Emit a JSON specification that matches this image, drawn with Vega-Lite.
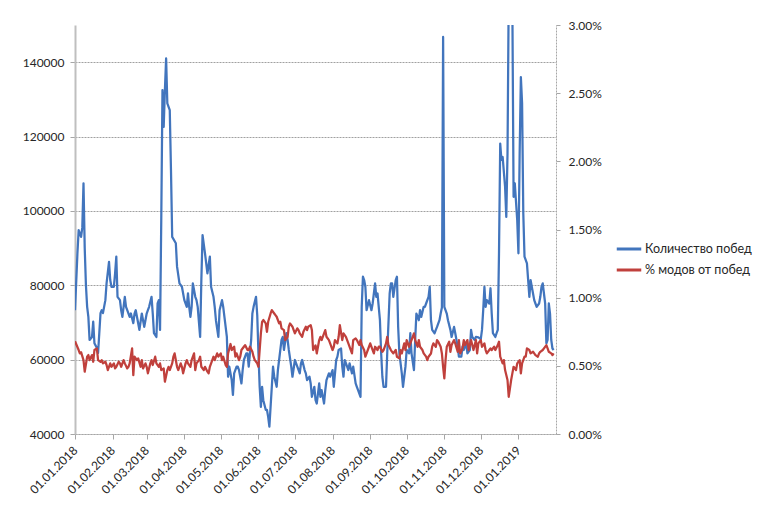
{
  "$schema": "https://vega.github.io/schema/vega-lite/v6.json",
  "width": 481,
  "height": 409,
  "autosize": "none",
  "padding": {"left": 75, "top": 25, "right": 211, "bottom": 78},
  "background": "white",
  "config": {
    "view": {"stroke": null},
    "font": "Lato",
    "axis": {
      "labelFont": "Lato",
      "labelFontSize": 12,
      "labelColor": "#262626",
      "tickColor": "#a6a6a6",
      "domainColor": "#a6a6a6",
      "title": null
    },
    "legend": {"labelFont": "Lato", "labelFontSize": 12.5, "labelColor": "#262626"}
  },
  "datasets": {
    "wins": [
      {"d": "2018-01-01", "v": 73300}, {"d": "2018-01-03", "v": 88600}, {"d": "2018-01-04", "v": 94800},
      {"d": "2018-01-06", "v": 93000}, {"d": "2018-01-07", "v": 95500}, {"d": "2018-01-08", "v": 107400},
      {"d": "2018-01-09", "v": 90000}, {"d": "2018-01-10", "v": 80000}, {"d": "2018-01-11", "v": 74200},
      {"d": "2018-01-12", "v": 71500}, {"d": "2018-01-13", "v": 65300}, {"d": "2018-01-15", "v": 66100},
      {"d": "2018-01-16", "v": 70200}, {"d": "2018-01-17", "v": 64400}, {"d": "2018-01-19", "v": 63100},
      {"d": "2018-01-20", "v": 61800}, {"d": "2018-01-22", "v": 72500}, {"d": "2018-01-23", "v": 73300},
      {"d": "2018-01-24", "v": 72500}, {"d": "2018-01-26", "v": 76000}, {"d": "2018-01-27", "v": 80600},
      {"d": "2018-01-29", "v": 86300}, {"d": "2018-01-30", "v": 81400}, {"d": "2018-01-31", "v": 79600},
      {"d": "2018-02-02", "v": 79600}, {"d": "2018-02-03", "v": 83200}, {"d": "2018-02-04", "v": 87700},
      {"d": "2018-02-05", "v": 76900}, {"d": "2018-02-07", "v": 76000}, {"d": "2018-02-08", "v": 73300},
      {"d": "2018-02-09", "v": 71500}, {"d": "2018-02-11", "v": 76900}, {"d": "2018-02-12", "v": 74200},
      {"d": "2018-02-13", "v": 73300}, {"d": "2018-02-15", "v": 71500}, {"d": "2018-02-16", "v": 72400},
      {"d": "2018-02-18", "v": 69800}, {"d": "2018-02-19", "v": 72400}, {"d": "2018-02-20", "v": 73300},
      {"d": "2018-02-22", "v": 69800}, {"d": "2018-02-23", "v": 68000}, {"d": "2018-02-25", "v": 72400},
      {"d": "2018-02-26", "v": 70600}, {"d": "2018-02-27", "v": 68800}, {"d": "2018-03-01", "v": 72400},
      {"d": "2018-03-02", "v": 73300}, {"d": "2018-03-03", "v": 74200}, {"d": "2018-03-05", "v": 76900},
      {"d": "2018-03-06", "v": 72400}, {"d": "2018-03-07", "v": 67100}, {"d": "2018-03-09", "v": 66100},
      {"d": "2018-03-10", "v": 75100}, {"d": "2018-03-11", "v": 76000}, {"d": "2018-03-12", "v": 68000},
      {"d": "2018-03-13", "v": 97500}, {"d": "2018-03-14", "v": 132500}, {"d": "2018-03-15", "v": 122600},
      {"d": "2018-03-16", "v": 132500}, {"d": "2018-03-17", "v": 141000}, {"d": "2018-03-18", "v": 128900},
      {"d": "2018-03-20", "v": 127100}, {"d": "2018-03-21", "v": 111000}, {"d": "2018-03-22", "v": 93000},
      {"d": "2018-03-25", "v": 91300}, {"d": "2018-03-26", "v": 85000}, {"d": "2018-03-28", "v": 80500},
      {"d": "2018-03-30", "v": 79600}, {"d": "2018-04-01", "v": 76000}, {"d": "2018-04-03", "v": 74200},
      {"d": "2018-04-04", "v": 77800}, {"d": "2018-04-05", "v": 74200}, {"d": "2018-04-06", "v": 71500},
      {"d": "2018-04-07", "v": 74200}, {"d": "2018-04-08", "v": 80500}, {"d": "2018-04-10", "v": 76900},
      {"d": "2018-04-11", "v": 76000}, {"d": "2018-04-12", "v": 74200}, {"d": "2018-04-14", "v": 66100},
      {"d": "2018-04-15", "v": 81400}, {"d": "2018-04-16", "v": 93500}, {"d": "2018-04-18", "v": 88600},
      {"d": "2018-04-19", "v": 85900}, {"d": "2018-04-20", "v": 83200}, {"d": "2018-04-22", "v": 87700},
      {"d": "2018-04-23", "v": 79600}, {"d": "2018-04-25", "v": 76900}, {"d": "2018-04-26", "v": 74200},
      {"d": "2018-04-27", "v": 70600}, {"d": "2018-04-29", "v": 66100}, {"d": "2018-04-30", "v": 73300},
      {"d": "2018-05-02", "v": 76000}, {"d": "2018-05-03", "v": 74200}, {"d": "2018-05-04", "v": 71500},
      {"d": "2018-05-06", "v": 66100}, {"d": "2018-05-07", "v": 55400}, {"d": "2018-05-08", "v": 58100},
      {"d": "2018-05-10", "v": 54500}, {"d": "2018-05-11", "v": 50500}, {"d": "2018-05-12", "v": 56300},
      {"d": "2018-05-14", "v": 58100}, {"d": "2018-05-15", "v": 58100}, {"d": "2018-05-16", "v": 57200},
      {"d": "2018-05-18", "v": 53600}, {"d": "2018-05-19", "v": 57200}, {"d": "2018-05-20", "v": 59900},
      {"d": "2018-05-22", "v": 61700}, {"d": "2018-05-23", "v": 61700}, {"d": "2018-05-24", "v": 58100},
      {"d": "2018-05-26", "v": 65300}, {"d": "2018-05-27", "v": 72400}, {"d": "2018-05-28", "v": 74200},
      {"d": "2018-05-30", "v": 76900}, {"d": "2018-05-31", "v": 72000}, {"d": "2018-06-01", "v": 61700},
      {"d": "2018-06-02", "v": 52700}, {"d": "2018-06-03", "v": 47300}, {"d": "2018-06-04", "v": 52700},
      {"d": "2018-06-05", "v": 49100}, {"d": "2018-06-07", "v": 46500}, {"d": "2018-06-08", "v": 46500},
      {"d": "2018-06-09", "v": 44600}, {"d": "2018-06-10", "v": 42000}, {"d": "2018-06-12", "v": 52700},
      {"d": "2018-06-13", "v": 58100}, {"d": "2018-06-14", "v": 55400}, {"d": "2018-06-16", "v": 52700},
      {"d": "2018-06-17", "v": 57200}, {"d": "2018-06-18", "v": 59900}, {"d": "2018-06-20", "v": 65300},
      {"d": "2018-06-21", "v": 66100}, {"d": "2018-06-22", "v": 62600}, {"d": "2018-06-24", "v": 67100},
      {"d": "2018-06-25", "v": 65300}, {"d": "2018-06-26", "v": 62600}, {"d": "2018-06-28", "v": 58100},
      {"d": "2018-06-29", "v": 55400}, {"d": "2018-07-01", "v": 59900}, {"d": "2018-07-02", "v": 59000},
      {"d": "2018-07-03", "v": 58100}, {"d": "2018-07-05", "v": 56300}, {"d": "2018-07-06", "v": 59000},
      {"d": "2018-07-07", "v": 59900}, {"d": "2018-07-09", "v": 57200}, {"d": "2018-07-10", "v": 56300},
      {"d": "2018-07-11", "v": 54500}, {"d": "2018-07-13", "v": 55400}, {"d": "2018-07-14", "v": 53600},
      {"d": "2018-07-15", "v": 50000}, {"d": "2018-07-17", "v": 52700}, {"d": "2018-07-18", "v": 49100},
      {"d": "2018-07-19", "v": 48200}, {"d": "2018-07-21", "v": 53600}, {"d": "2018-07-22", "v": 50000},
      {"d": "2018-07-23", "v": 51800}, {"d": "2018-07-25", "v": 48200}, {"d": "2018-07-26", "v": 51800},
      {"d": "2018-07-27", "v": 54500}, {"d": "2018-07-29", "v": 56300}, {"d": "2018-07-30", "v": 55400},
      {"d": "2018-08-01", "v": 57200}, {"d": "2018-08-02", "v": 52700}, {"d": "2018-08-04", "v": 59900},
      {"d": "2018-08-05", "v": 60800}, {"d": "2018-08-06", "v": 62600}, {"d": "2018-08-08", "v": 63000},
      {"d": "2018-08-09", "v": 58100}, {"d": "2018-08-10", "v": 55400}, {"d": "2018-08-11", "v": 59900},
      {"d": "2018-08-13", "v": 58100}, {"d": "2018-08-14", "v": 57200}, {"d": "2018-08-15", "v": 59000},
      {"d": "2018-08-17", "v": 56300}, {"d": "2018-08-18", "v": 58100}, {"d": "2018-08-20", "v": 53600},
      {"d": "2018-08-21", "v": 52700}, {"d": "2018-08-22", "v": 51800}, {"d": "2018-08-24", "v": 50000},
      {"d": "2018-08-25", "v": 74200}, {"d": "2018-08-26", "v": 82300}, {"d": "2018-08-27", "v": 81400},
      {"d": "2018-08-28", "v": 79600}, {"d": "2018-08-29", "v": 73300}, {"d": "2018-08-31", "v": 76000},
      {"d": "2018-09-02", "v": 73300}, {"d": "2018-09-03", "v": 75100}, {"d": "2018-09-05", "v": 80500},
      {"d": "2018-09-06", "v": 76900}, {"d": "2018-09-07", "v": 77800}, {"d": "2018-09-09", "v": 70600},
      {"d": "2018-09-10", "v": 61700}, {"d": "2018-09-11", "v": 55400}, {"d": "2018-09-12", "v": 52700},
      {"d": "2018-09-14", "v": 52700}, {"d": "2018-09-15", "v": 61700}, {"d": "2018-09-17", "v": 77800},
      {"d": "2018-09-18", "v": 80500}, {"d": "2018-09-19", "v": 80500}, {"d": "2018-09-20", "v": 76900},
      {"d": "2018-09-22", "v": 81400}, {"d": "2018-09-23", "v": 82300}, {"d": "2018-09-24", "v": 68800},
      {"d": "2018-09-25", "v": 61700}, {"d": "2018-09-27", "v": 56300}, {"d": "2018-09-28", "v": 52700},
      {"d": "2018-09-30", "v": 58100}, {"d": "2018-10-01", "v": 62600}, {"d": "2018-10-03", "v": 61700},
      {"d": "2018-10-04", "v": 67100}, {"d": "2018-10-05", "v": 61700}, {"d": "2018-10-07", "v": 57200},
      {"d": "2018-10-08", "v": 65300}, {"d": "2018-10-09", "v": 72400}, {"d": "2018-10-11", "v": 70600},
      {"d": "2018-10-12", "v": 73300}, {"d": "2018-10-13", "v": 71500}, {"d": "2018-10-15", "v": 74200},
      {"d": "2018-10-16", "v": 74200}, {"d": "2018-10-17", "v": 75100}, {"d": "2018-10-19", "v": 76900},
      {"d": "2018-10-20", "v": 79600}, {"d": "2018-10-21", "v": 70600}, {"d": "2018-10-22", "v": 68000},
      {"d": "2018-10-24", "v": 67100}, {"d": "2018-10-25", "v": 68000}, {"d": "2018-10-26", "v": 68800},
      {"d": "2018-10-28", "v": 70600}, {"d": "2018-10-29", "v": 72400}, {"d": "2018-10-30", "v": 74000},
      {"d": "2018-10-31", "v": 146800}, {"d": "2018-11-01", "v": 74200}, {"d": "2018-11-03", "v": 72400},
      {"d": "2018-11-04", "v": 70600}, {"d": "2018-11-06", "v": 68000}, {"d": "2018-11-07", "v": 66100},
      {"d": "2018-11-09", "v": 68800}, {"d": "2018-11-10", "v": 67100}, {"d": "2018-11-11", "v": 65300},
      {"d": "2018-11-12", "v": 63500}, {"d": "2018-11-13", "v": 60800}, {"d": "2018-11-15", "v": 60800},
      {"d": "2018-11-16", "v": 63500}, {"d": "2018-11-17", "v": 62600}, {"d": "2018-11-19", "v": 64400},
      {"d": "2018-11-20", "v": 61700}, {"d": "2018-11-22", "v": 62600}, {"d": "2018-11-23", "v": 68000},
      {"d": "2018-11-24", "v": 66100}, {"d": "2018-11-26", "v": 65300}, {"d": "2018-11-27", "v": 66100},
      {"d": "2018-11-29", "v": 66000}, {"d": "2018-12-01", "v": 65500}, {"d": "2018-12-02", "v": 68000},
      {"d": "2018-12-03", "v": 73300}, {"d": "2018-12-04", "v": 79600}, {"d": "2018-12-05", "v": 74200},
      {"d": "2018-12-06", "v": 76000}, {"d": "2018-12-08", "v": 75100}, {"d": "2018-12-09", "v": 79200},
      {"d": "2018-12-10", "v": 72400}, {"d": "2018-12-11", "v": 67100}, {"d": "2018-12-13", "v": 66100},
      {"d": "2018-12-14", "v": 67100}, {"d": "2018-12-15", "v": 68000}, {"d": "2018-12-16", "v": 88600},
      {"d": "2018-12-17", "v": 118100}, {"d": "2018-12-18", "v": 113700}, {"d": "2018-12-19", "v": 114500},
      {"d": "2018-12-21", "v": 106500}, {"d": "2018-12-22", "v": 98400}, {"d": "2018-12-23", "v": 115400},
      {"d": "2018-12-24", "v": 158000}, {"d": "2018-12-25", "v": 163000}, {"d": "2018-12-26", "v": 160000},
      {"d": "2018-12-27", "v": 155000}, {"d": "2018-12-28", "v": 103800}, {"d": "2018-12-29", "v": 107400},
      {"d": "2018-12-31", "v": 97500}, {"d": "2019-01-01", "v": 88600}, {"d": "2019-01-02", "v": 115500},
      {"d": "2019-01-03", "v": 136000}, {"d": "2019-01-04", "v": 129000}, {"d": "2019-01-05", "v": 99300},
      {"d": "2019-01-06", "v": 87700}, {"d": "2019-01-08", "v": 85900}, {"d": "2019-01-09", "v": 81400},
      {"d": "2019-01-10", "v": 76900}, {"d": "2019-01-11", "v": 81400}, {"d": "2019-01-12", "v": 79600},
      {"d": "2019-01-14", "v": 76000}, {"d": "2019-01-15", "v": 75100}, {"d": "2019-01-16", "v": 74200},
      {"d": "2019-01-18", "v": 75100}, {"d": "2019-01-19", "v": 76900}, {"d": "2019-01-20", "v": 79600},
      {"d": "2019-01-21", "v": 80500}, {"d": "2019-01-23", "v": 75100}, {"d": "2019-01-24", "v": 64400},
      {"d": "2019-01-25", "v": 65300}, {"d": "2019-01-26", "v": 75100}, {"d": "2019-01-27", "v": 72400},
      {"d": "2019-01-28", "v": 65300}, {"d": "2019-01-29", "v": 63000}, {"d": "2019-01-30", "v": 62600}
    ],
    "mods": [
      {"d": "2018-01-01", "p": 0.0068}, {"d": "2018-01-04", "p": 0.00616}, {"d": "2018-01-05", "p": 0.00591},
      {"d": "2018-01-06", "p": 0.006}, {"d": "2018-01-08", "p": 0.00542}, {"d": "2018-01-09", "p": 0.00457},
      {"d": "2018-01-11", "p": 0.00567}, {"d": "2018-01-12", "p": 0.00579}, {"d": "2018-01-13", "p": 0.00542},
      {"d": "2018-01-15", "p": 0.00579}, {"d": "2018-01-16", "p": 0.0053}, {"d": "2018-01-17", "p": 0.00616},
      {"d": "2018-01-19", "p": 0.00628}, {"d": "2018-01-20", "p": 0.00542}, {"d": "2018-01-22", "p": 0.0053},
      {"d": "2018-01-23", "p": 0.00542}, {"d": "2018-01-24", "p": 0.00518}, {"d": "2018-01-26", "p": 0.0053},
      {"d": "2018-01-27", "p": 0.00506}, {"d": "2018-01-28", "p": 0.00469}, {"d": "2018-01-30", "p": 0.00518},
      {"d": "2018-01-31", "p": 0.00493}, {"d": "2018-02-02", "p": 0.00518}, {"d": "2018-02-03", "p": 0.00481},
      {"d": "2018-02-04", "p": 0.00493}, {"d": "2018-02-06", "p": 0.0053}, {"d": "2018-02-07", "p": 0.00518},
      {"d": "2018-02-08", "p": 0.00493}, {"d": "2018-02-10", "p": 0.00542}, {"d": "2018-02-11", "p": 0.00518},
      {"d": "2018-02-13", "p": 0.00481}, {"d": "2018-02-14", "p": 0.00493}, {"d": "2018-02-15", "p": 0.00518},
      {"d": "2018-02-17", "p": 0.00628}, {"d": "2018-02-18", "p": 0.00432}, {"d": "2018-02-19", "p": 0.00567},
      {"d": "2018-02-21", "p": 0.00542}, {"d": "2018-02-22", "p": 0.00555}, {"d": "2018-02-24", "p": 0.00493},
      {"d": "2018-02-25", "p": 0.00542}, {"d": "2018-02-26", "p": 0.00481}, {"d": "2018-02-28", "p": 0.00518},
      {"d": "2018-03-01", "p": 0.00493}, {"d": "2018-03-02", "p": 0.00445}, {"d": "2018-03-04", "p": 0.00518},
      {"d": "2018-03-05", "p": 0.00542}, {"d": "2018-03-06", "p": 0.00506}, {"d": "2018-03-08", "p": 0.00567},
      {"d": "2018-03-09", "p": 0.00518}, {"d": "2018-03-11", "p": 0.00493}, {"d": "2018-03-12", "p": 0.00518},
      {"d": "2018-03-13", "p": 0.00469}, {"d": "2018-03-15", "p": 0.00481}, {"d": "2018-03-16", "p": 0.00384},
      {"d": "2018-03-18", "p": 0.00469}, {"d": "2018-03-19", "p": 0.00493}, {"d": "2018-03-20", "p": 0.00469},
      {"d": "2018-03-22", "p": 0.00518}, {"d": "2018-03-23", "p": 0.00567}, {"d": "2018-03-24", "p": 0.00591},
      {"d": "2018-03-26", "p": 0.00493}, {"d": "2018-03-27", "p": 0.00469}, {"d": "2018-03-29", "p": 0.00518},
      {"d": "2018-03-30", "p": 0.00493}, {"d": "2018-03-31", "p": 0.00445}, {"d": "2018-04-02", "p": 0.00518},
      {"d": "2018-04-03", "p": 0.00542}, {"d": "2018-04-04", "p": 0.00518}, {"d": "2018-04-06", "p": 0.00493},
      {"d": "2018-04-07", "p": 0.00542}, {"d": "2018-04-09", "p": 0.00591}, {"d": "2018-04-10", "p": 0.00469},
      {"d": "2018-04-11", "p": 0.00518}, {"d": "2018-04-13", "p": 0.00542}, {"d": "2018-04-14", "p": 0.00567},
      {"d": "2018-04-15", "p": 0.00493}, {"d": "2018-04-17", "p": 0.00469}, {"d": "2018-04-18", "p": 0.00493},
      {"d": "2018-04-20", "p": 0.00457}, {"d": "2018-04-21", "p": 0.00445}, {"d": "2018-04-22", "p": 0.00493},
      {"d": "2018-04-24", "p": 0.00542}, {"d": "2018-04-25", "p": 0.00567}, {"d": "2018-04-26", "p": 0.00542},
      {"d": "2018-04-28", "p": 0.00591}, {"d": "2018-04-29", "p": 0.00567}, {"d": "2018-05-01", "p": 0.00591},
      {"d": "2018-05-02", "p": 0.00542}, {"d": "2018-05-03", "p": 0.00567}, {"d": "2018-05-05", "p": 0.00506},
      {"d": "2018-05-06", "p": 0.00493}, {"d": "2018-05-07", "p": 0.00591}, {"d": "2018-05-09", "p": 0.0066},
      {"d": "2018-05-10", "p": 0.00616}, {"d": "2018-05-12", "p": 0.0064}, {"d": "2018-05-13", "p": 0.00567},
      {"d": "2018-05-14", "p": 0.00591}, {"d": "2018-05-16", "p": 0.00542}, {"d": "2018-05-17", "p": 0.00567},
      {"d": "2018-05-18", "p": 0.00616}, {"d": "2018-05-20", "p": 0.0064}, {"d": "2018-05-21", "p": 0.00652},
      {"d": "2018-05-23", "p": 0.00616}, {"d": "2018-05-24", "p": 0.00616}, {"d": "2018-05-25", "p": 0.0064},
      {"d": "2018-05-27", "p": 0.00603}, {"d": "2018-05-28", "p": 0.00567}, {"d": "2018-05-29", "p": 0.00542},
      {"d": "2018-05-31", "p": 0.00518}, {"d": "2018-06-01", "p": 0.00493}, {"d": "2018-06-03", "p": 0.00738},
      {"d": "2018-06-04", "p": 0.00823}, {"d": "2018-06-05", "p": 0.00836}, {"d": "2018-06-07", "p": 0.00811},
      {"d": "2018-06-08", "p": 0.0075}, {"d": "2018-06-09", "p": 0.00823}, {"d": "2018-06-11", "p": 0.00884},
      {"d": "2018-06-12", "p": 0.00909}, {"d": "2018-06-14", "p": 0.00884}, {"d": "2018-06-15", "p": 0.00872},
      {"d": "2018-06-16", "p": 0.0086}, {"d": "2018-06-18", "p": 0.00811}, {"d": "2018-06-19", "p": 0.00823},
      {"d": "2018-06-20", "p": 0.00775}, {"d": "2018-06-22", "p": 0.00762}, {"d": "2018-06-23", "p": 0.00689},
      {"d": "2018-06-25", "p": 0.00713}, {"d": "2018-06-26", "p": 0.00787}, {"d": "2018-06-27", "p": 0.00811},
      {"d": "2018-06-29", "p": 0.00787}, {"d": "2018-06-30", "p": 0.00762}, {"d": "2018-07-01", "p": 0.00738},
      {"d": "2018-07-03", "p": 0.00775}, {"d": "2018-07-04", "p": 0.00762}, {"d": "2018-07-05", "p": 0.00738},
      {"d": "2018-07-07", "p": 0.00713}, {"d": "2018-07-08", "p": 0.0075}, {"d": "2018-07-10", "p": 0.00787},
      {"d": "2018-07-11", "p": 0.00762}, {"d": "2018-07-12", "p": 0.00787}, {"d": "2018-07-14", "p": 0.00799},
      {"d": "2018-07-15", "p": 0.00762}, {"d": "2018-07-16", "p": 0.00616}, {"d": "2018-07-18", "p": 0.0065},
      {"d": "2018-07-19", "p": 0.00591}, {"d": "2018-07-21", "p": 0.00689}, {"d": "2018-07-22", "p": 0.00713},
      {"d": "2018-07-23", "p": 0.00689}, {"d": "2018-07-25", "p": 0.00738}, {"d": "2018-07-26", "p": 0.00762},
      {"d": "2018-07-27", "p": 0.00713}, {"d": "2018-07-29", "p": 0.00689}, {"d": "2018-07-30", "p": 0.00665},
      {"d": "2018-08-01", "p": 0.00616}, {"d": "2018-08-02", "p": 0.0064}, {"d": "2018-08-03", "p": 0.00689},
      {"d": "2018-08-05", "p": 0.00665}, {"d": "2018-08-06", "p": 0.00713}, {"d": "2018-08-07", "p": 0.00799},
      {"d": "2018-08-09", "p": 0.00689}, {"d": "2018-08-10", "p": 0.00738}, {"d": "2018-08-12", "p": 0.00713},
      {"d": "2018-08-13", "p": 0.00689}, {"d": "2018-08-14", "p": 0.00665}, {"d": "2018-08-16", "p": 0.00616},
      {"d": "2018-08-17", "p": 0.00591}, {"d": "2018-08-18", "p": 0.00689}, {"d": "2018-08-20", "p": 0.00701},
      {"d": "2018-08-21", "p": 0.00689}, {"d": "2018-08-23", "p": 0.00652}, {"d": "2018-08-24", "p": 0.00689},
      {"d": "2018-08-25", "p": 0.00652}, {"d": "2018-08-27", "p": 0.00616}, {"d": "2018-08-28", "p": 0.00567},
      {"d": "2018-08-29", "p": 0.00591}, {"d": "2018-08-31", "p": 0.0064}, {"d": "2018-09-01", "p": 0.00665},
      {"d": "2018-09-03", "p": 0.00616}, {"d": "2018-09-04", "p": 0.00591}, {"d": "2018-09-05", "p": 0.0064},
      {"d": "2018-09-07", "p": 0.00616}, {"d": "2018-09-08", "p": 0.0064}, {"d": "2018-09-09", "p": 0.0064},
      {"d": "2018-09-11", "p": 0.00603}, {"d": "2018-09-12", "p": 0.00616}, {"d": "2018-09-14", "p": 0.00665},
      {"d": "2018-09-15", "p": 0.00713}, {"d": "2018-09-16", "p": 0.00652}, {"d": "2018-09-18", "p": 0.00616},
      {"d": "2018-09-19", "p": 0.00603}, {"d": "2018-09-20", "p": 0.00591}, {"d": "2018-09-22", "p": 0.00616},
      {"d": "2018-09-23", "p": 0.00567}, {"d": "2018-09-25", "p": 0.00555}, {"d": "2018-09-26", "p": 0.00616},
      {"d": "2018-09-27", "p": 0.00591}, {"d": "2018-09-29", "p": 0.00665}, {"d": "2018-09-30", "p": 0.00616},
      {"d": "2018-10-01", "p": 0.00689}, {"d": "2018-10-03", "p": 0.0064}, {"d": "2018-10-04", "p": 0.00665},
      {"d": "2018-10-06", "p": 0.00713}, {"d": "2018-10-07", "p": 0.00738}, {"d": "2018-10-08", "p": 0.00689},
      {"d": "2018-10-10", "p": 0.0064}, {"d": "2018-10-11", "p": 0.00689}, {"d": "2018-10-12", "p": 0.0064},
      {"d": "2018-10-14", "p": 0.00616}, {"d": "2018-10-15", "p": 0.00591}, {"d": "2018-10-17", "p": 0.00567},
      {"d": "2018-10-18", "p": 0.00542}, {"d": "2018-10-19", "p": 0.00567}, {"d": "2018-10-21", "p": 0.0059},
      {"d": "2018-10-22", "p": 0.0064}, {"d": "2018-10-23", "p": 0.00665}, {"d": "2018-10-25", "p": 0.0064},
      {"d": "2018-10-26", "p": 0.00689}, {"d": "2018-10-27", "p": 0.00677}, {"d": "2018-10-29", "p": 0.0064},
      {"d": "2018-10-30", "p": 0.00591}, {"d": "2018-10-31", "p": 0.00493}, {"d": "2018-11-01", "p": 0.00408},
      {"d": "2018-11-02", "p": 0.00542}, {"d": "2018-11-03", "p": 0.0064}, {"d": "2018-11-05", "p": 0.00677},
      {"d": "2018-11-06", "p": 0.00603}, {"d": "2018-11-07", "p": 0.00652}, {"d": "2018-11-09", "p": 0.00689},
      {"d": "2018-11-10", "p": 0.00665}, {"d": "2018-11-12", "p": 0.00603}, {"d": "2018-11-13", "p": 0.00689},
      {"d": "2018-11-14", "p": 0.00591}, {"d": "2018-11-16", "p": 0.00628}, {"d": "2018-11-17", "p": 0.00689},
      {"d": "2018-11-18", "p": 0.00652}, {"d": "2018-11-20", "p": 0.00689}, {"d": "2018-11-21", "p": 0.00616},
      {"d": "2018-11-23", "p": 0.00689}, {"d": "2018-11-24", "p": 0.00652}, {"d": "2018-11-25", "p": 0.00616},
      {"d": "2018-11-27", "p": 0.00689}, {"d": "2018-11-28", "p": 0.00591}, {"d": "2018-11-29", "p": 0.00665},
      {"d": "2018-12-01", "p": 0.00689}, {"d": "2018-12-02", "p": 0.0064}, {"d": "2018-12-04", "p": 0.00665},
      {"d": "2018-12-05", "p": 0.00616}, {"d": "2018-12-06", "p": 0.00591}, {"d": "2018-12-08", "p": 0.00616},
      {"d": "2018-12-09", "p": 0.00628}, {"d": "2018-12-10", "p": 0.00616}, {"d": "2018-12-12", "p": 0.0064},
      {"d": "2018-12-13", "p": 0.00616}, {"d": "2018-12-15", "p": 0.00652}, {"d": "2018-12-16", "p": 0.00677},
      {"d": "2018-12-17", "p": 0.00567}, {"d": "2018-12-19", "p": 0.00518}, {"d": "2018-12-20", "p": 0.00542},
      {"d": "2018-12-21", "p": 0.00469}, {"d": "2018-12-23", "p": 0.00396}, {"d": "2018-12-24", "p": 0.00273},
      {"d": "2018-12-26", "p": 0.00396}, {"d": "2018-12-27", "p": 0.00445}, {"d": "2018-12-28", "p": 0.00493},
      {"d": "2018-12-30", "p": 0.00469}, {"d": "2018-12-31", "p": 0.00518}, {"d": "2019-01-02", "p": 0.00542},
      {"d": "2019-01-03", "p": 0.00445}, {"d": "2019-01-04", "p": 0.00518}, {"d": "2019-01-06", "p": 0.00567},
      {"d": "2019-01-07", "p": 0.00567}, {"d": "2019-01-08", "p": 0.00628}, {"d": "2019-01-10", "p": 0.00616},
      {"d": "2019-01-11", "p": 0.00591}, {"d": "2019-01-13", "p": 0.00603}, {"d": "2019-01-14", "p": 0.00591},
      {"d": "2019-01-15", "p": 0.00579}, {"d": "2019-01-17", "p": 0.00567}, {"d": "2019-01-18", "p": 0.00591},
      {"d": "2019-01-19", "p": 0.00603}, {"d": "2019-01-21", "p": 0.00616}, {"d": "2019-01-22", "p": 0.00628},
      {"d": "2019-01-24", "p": 0.00652}, {"d": "2019-01-25", "p": 0.00628}, {"d": "2019-01-26", "p": 0.00603},
      {"d": "2019-01-28", "p": 0.00591}, {"d": "2019-01-29", "p": 0.00579}, {"d": "2019-01-30", "p": 0.00591}
    ]
  },
  "layer": [
    {
      "data": {"name": "wins"},
      "mark": {"type": "line", "strokeWidth": 2.25, "strokeJoin": "round", "clip": true},
      "encoding": {
        "x": {
          "field": "d", "type": "temporal",
          "scale": {"type": "utc", "domain": [{"year": 2018, "month": 1, "date": 1, "utc": true}, {"year": 2019, "month": 1, "date": 31, "hours": 22, "utc": true}]},
          "axis": {
            "values": [
              {"year": 2018, "month": 1, "date": 1, "utc": true}, {"year": 2018, "month": 2, "date": 1, "utc": true},
              {"year": 2018, "month": 3, "date": 1, "utc": true}, {"year": 2018, "month": 4, "date": 1, "utc": true},
              {"year": 2018, "month": 5, "date": 1, "utc": true}, {"year": 2018, "month": 6, "date": 1, "utc": true},
              {"year": 2018, "month": 7, "date": 1, "utc": true}, {"year": 2018, "month": 8, "date": 1, "utc": true},
              {"year": 2018, "month": 9, "date": 1, "utc": true}, {"year": 2018, "month": 10, "date": 1, "utc": true},
              {"year": 2018, "month": 11, "date": 1, "utc": true}, {"year": 2018, "month": 12, "date": 1, "utc": true},
              {"year": 2019, "month": 1, "date": 1, "utc": true}
            ],
            "labelExpr": "utcFormat(datum.value, '%d.%m.%Y')",
            "labelAngle": -45, "labelAlign": "right", "labelBaseline": "middle",
            "labelPadding": 9, "tickSize": 5, "grid": false,
            "domainDash": [2, 1], "domainWidth": 1, "labelOverlap": false, "labelFlush": false
          }
        },
        "y": {
          "field": "v", "type": "quantitative",
          "scale": {"domain": [40000, 150000], "nice": false, "zero": false},
          "axis": {
            "orient": "left",
            "values": [40000, 60000, 80000, 100000, 120000, 140000],
            "format": "d", "tickSize": 5, "labelPadding": 6,
            "domainWidth": 2, "domainColor": "#bfbfbf",
            "grid": true, "gridColor": "#a0a0a0", "gridDash": [2, 1], "gridWidth": 1
          }
        },
        "color": {
          "datum": "Количество побед",
          "scale": {"domain": ["Количество побед", "% модов от побед"], "range": ["#4275bd", "#c0403c"]},
          "legend": {
            "title": null, "orient": "none", "legendX": 540, "legendY": 210,
            "symbolType": "stroke", "symbolSize": 600, "symbolStrokeWidth": 3,
            "labelOffset": 2, "rowPadding": 0, "padding": 0
          }
        }
      }
    },
    {
      "data": {"name": "mods"},
      "mark": {"type": "line", "strokeWidth": 2.25, "strokeJoin": "round", "clip": true},
      "encoding": {
        "x": {
          "field": "d", "type": "temporal",
          "scale": {"type": "utc", "domain": [{"year": 2018, "month": 1, "date": 1, "utc": true}, {"year": 2019, "month": 1, "date": 31, "hours": 22, "utc": true}]},
          "axis": {
            "values": [
              {"year": 2018, "month": 1, "date": 1, "utc": true}, {"year": 2018, "month": 2, "date": 1, "utc": true},
              {"year": 2018, "month": 3, "date": 1, "utc": true}, {"year": 2018, "month": 4, "date": 1, "utc": true},
              {"year": 2018, "month": 5, "date": 1, "utc": true}, {"year": 2018, "month": 6, "date": 1, "utc": true},
              {"year": 2018, "month": 7, "date": 1, "utc": true}, {"year": 2018, "month": 8, "date": 1, "utc": true},
              {"year": 2018, "month": 9, "date": 1, "utc": true}, {"year": 2018, "month": 10, "date": 1, "utc": true},
              {"year": 2018, "month": 11, "date": 1, "utc": true}, {"year": 2018, "month": 12, "date": 1, "utc": true},
              {"year": 2019, "month": 1, "date": 1, "utc": true}
            ],
            "labelExpr": "utcFormat(datum.value, '%d.%m.%Y')",
            "labelAngle": -45, "labelAlign": "right", "labelBaseline": "middle",
            "labelPadding": 9, "tickSize": 5, "grid": false,
            "domainDash": [2, 1], "domainWidth": 1, "labelOverlap": false, "labelFlush": false
          }
        },
        "y": {
          "field": "p", "type": "quantitative",
          "scale": {"domain": [0, 0.03], "nice": false},
          "axis": {
            "orient": "right",
            "values": [0, 0.005, 0.01, 0.015, 0.02, 0.025, 0.03],
            "format": ".2%", "tickSize": 4, "labelPadding": 8,
            "domainDash": [2, 1], "domainWidth": 1, "grid": false
          }
        },
        "color": {"datum": "% модов от побед"}
      }
    }
  ],
  "resolve": {"scale": {"y": "independent"}}
}
